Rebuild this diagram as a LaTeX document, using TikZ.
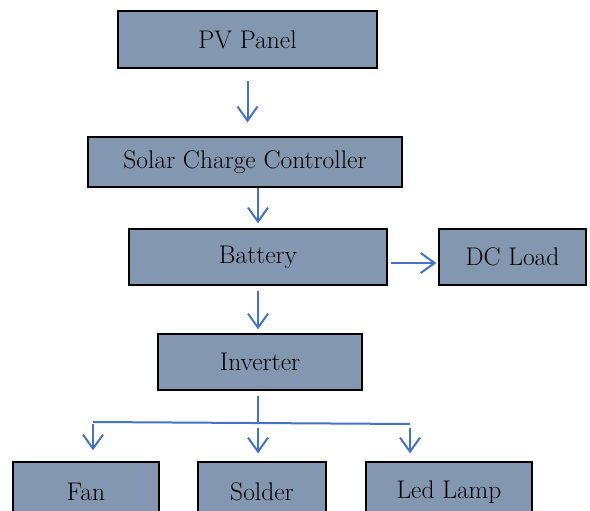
\documentclass[tikz,border=0pt]{standalone}
\usepackage{fontspec}
\usepackage{xcolor}
\usepackage{tikz}
\usetikzlibrary{arrows.meta, positioning}
\definecolor{boxfill}{HTML}{8497B0}
\definecolor{flowblue}{HTML}{4472C4}

\begin{document}
\begin{tikzpicture}[x=1pt, y=-1pt, >={Straight Barb[length=14pt, width=20pt]},
    block/.style={draw=black, line width=1.3pt, fill=boxfill, inner sep=0pt,
      font=\fontsize{25.5}{30}\selectfont},
    flow/.style={->, draw=flowblue, line width=2pt},
    wire/.style={draw=flowblue, line width=2pt}]

  \useasboundingbox (0, 0) rectangle (590, 511);
  \clip (0, 0) rectangle (590, 511);

  % main chain
  \node[block, minimum width=259pt, minimum height=57pt] (pv)  at (247.5, 39.5) {PV Panel};
  \node[block, minimum width=314pt, minimum height=50pt] (scc) at (245, 162) {Solar Charge Controller};
  \node[block, minimum width=258pt, minimum height=56pt] (bat) at (258, 257) {Battery};
  \node[block, minimum width=147pt, minimum height=56pt] (dc)  at (512.5, 257) {DC Load};
  \node[block, minimum width=204pt, minimum height=56pt] (inv) at (260, 362) {Inverter};

  % loads (cut by the bottom edge)
  \node[block, minimum width=146pt, minimum height=60pt] (fan) at (86, 492) {Fan};
  \node[block, minimum width=128pt, minimum height=60pt] (sol) at (262, 492) {Solder};
  \node[block, minimum width=166pt, minimum height=60pt] (led) at (449, 492) {Led Lamp};

  \draw[flow, shorten <=12pt, shorten >=14pt] (pv.south) -- (pv.south |- scc.north);
  \draw[flow, shorten >=5pt] (scc.south -| bat) -- (bat);
  \draw[flow, shorten <=3pt, shorten >=2pt] ([yshift=-6pt]bat.east) -- ([yshift=-6pt]dc.west);
  \draw[flow, shorten <=5pt, shorten >=4pt] (bat.south) -- (bat.south |- inv.north);

  % split after the inverter
  \coordinate (bus)  at (258, 423);
  \coordinate (busL) at (93, 422);
  \coordinate (busR) at (410, 424);
  \draw[wire, shorten <=5pt] (inv.south -| bus) -- (bus);
  \draw[wire] (busL) -- (busR);

  \draw[flow, shorten <=2pt, shorten >=11pt] (busL) -- (busL |- fan.north);
  \draw[flow, shorten <=5pt, shorten >=8pt] (bus) -- (bus |- sol.north);
  \draw[flow, shorten <=4pt, shorten >=8pt] (busR) -- (busR |- led.north);
\end{tikzpicture}
\end{document}
